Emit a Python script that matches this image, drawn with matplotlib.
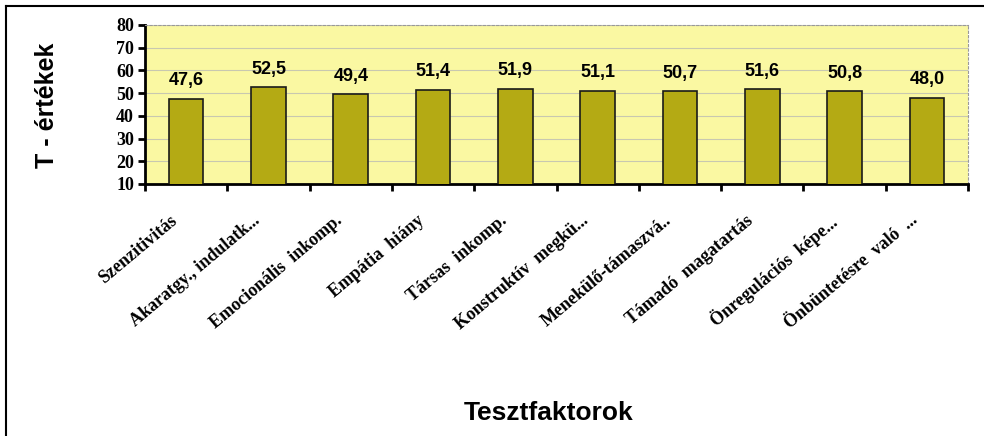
import numpy as np
import matplotlib
matplotlib.use("Agg")
import matplotlib.pyplot as plt
from matplotlib.lines import Line2D

# adatok
kategoriak = ["Szenzitivitás", "Akaratgy., indulatk...", "Emocionális  inkomp.",
              "Empátia  hiány", "Társas  inkomp.", "Konstruktív  megkü...",
              "Menekülő-támaszvá..", "Támadó  magatartás", "Önregulációs  képe...",
              "Önbüntetésre  való  ..."]
ertekek = [47.6, 52.5, 49.4, 51.4, 51.9, 51.1, 50.7, 51.6, 50.8, 48.0]
cimkek = ["47,6", "52,5", "49,4", "51,4", "51,9", "51,1", "50,7", "51,6", "50,8", "48,0"]
y_tickek = [10, 20, 30, 40, 50, 60, 70, 80]

fig = plt.figure(figsize=(9.84, 4.36), dpi=100)
ax = fig.add_axes([0.1474, 0.578, 0.8363, 0.365])
ax.set_facecolor("#FAF8A2")

x = np.arange(len(ertekek))
bars = ax.bar(x, ertekek, width=0.42, bottom=0, color="#B4AA14",
              edgecolor="#1a1a1a", linewidth=1.2, zorder=3)

for xi, v, c in zip(x, ertekek, cimkek):
    ax.annotate(c, (xi, v), xytext=(0, 7), textcoords="offset points",
                ha="center", va="bottom", fontsize=13, fontweight="bold",
                family="Liberation Sans", zorder=4)

ax.set_ylim(10, 80)
ax.set_xlim(-0.5, len(ertekek) - 0.5)
ax.set_yticks(y_tickek)
ax.set_yticklabels([str(t) for t in y_tickek], family="Liberation Serif",
                   fontweight="bold", fontsize=13)
ax.yaxis.grid(True, color="#c8c8b0", linewidth=0.8, zorder=0)

# x tickek a kategoriak hataran
ax.set_xticks(np.arange(len(ertekek) + 1) - 0.5)
ax.set_xticklabels([])
ax.set_xticks(x - 0.2, minor=True)
ax.set_xticklabels(kategoriak, minor=True, rotation=40, ha="right",
                   rotation_mode="anchor", family="Liberation Serif",
                   fontweight="bold", fontsize=13)
ax.tick_params(axis="x", which="minor", length=0, pad=20)
ax.tick_params(axis="x", which="major", length=5, width=2, direction="out")
ax.tick_params(axis="y", length=5, width=2, direction="out", pad=3)

for s in ["left", "bottom"]:
    ax.spines[s].set_linewidth(2)
for s in ["top", "right"]:
    ax.spines[s].set_color("#999999")
    ax.spines[s].set_linestyle((0, (2, 2)))
    ax.spines[s].set_linewidth(0.8)

fig.text(0.048, 0.759, "T - értékek", rotation=90, ha="center", va="center",
         fontsize=18, fontweight="bold", family="Liberation Sans")
fig.text(0.558, 0.053, "Tesztfaktorok", ha="center", va="center",
         fontsize=19, fontweight="bold", family="Liberation Sans")

# kulso keret
fig.add_artist(Line2D([0.0061, 1.0], [0.986, 0.986], color="black", linewidth=1.5,
                      transform=fig.transFigure))
fig.add_artist(Line2D([0.0061, 0.0061], [0.0, 0.986], color="black", linewidth=1.5,
                      transform=fig.transFigure))

fig.savefig("out.png", dpi=100)
